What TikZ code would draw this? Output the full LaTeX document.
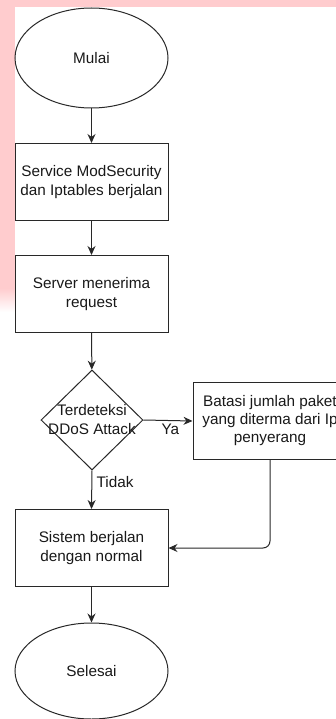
\documentclass[tikz,border=0pt]{standalone}
\usepackage{fontspec}
\setmainfont{Liberation Sans}
\usetikzlibrary{shapes.geometric,arrows.meta}
\definecolor{pinkbg}{RGB}{255,204,206}
\definecolor{linec}{RGB}{40,40,40}
\begin{document}
\begin{tikzpicture}[x=1pt,y=-1pt,
  every node/.style={font=\fontsize{15.3}{19}\selectfont, text=black!90, align=center},
  term/.style={draw=linec, line width=1pt, ellipse, minimum width=153pt, minimum height=100pt, inner sep=0pt},
  proc/.style={draw=linec, line width=1pt, rectangle, minimum width=153pt, minimum height=77pt, inner sep=1pt},
  dec/.style={draw=linec, line width=1pt, diamond, minimum width=102pt, minimum height=100pt, aspect=1.02, inner sep=0pt},
  conn/.style={draw=linec, line width=1pt, -{Stealth[length=9pt,width=8pt]}},
  lbl/.style={font=\fontsize{15.3}{19}\selectfont}]
\useasboundingbox (0,0) rectangle (336,719);
\clip (0,0) rectangle (336,719);
\fill[white] (0,0) rectangle (336,719);
\fill[pinkbg] (0,0) rectangle (336,7);
\fill[pinkbg] (0,0) rectangle (15,288);
\shade[top color=pinkbg, bottom color=white] (0,288) rectangle (15,312);

\node[term] (mulai) at (91.5,58) {Mulai};
\node[proc] (svc) at (91.5,182) {Service ModSecurity\\dan Iptables berjalan};
\node[proc] (srv) at (91.5,294) {Server menerima\\request};
\node[dec] (det) at (92,420) {};
\node at (92,420) {Terdeteksi\\DDoS Attack};
\node[proc, minimum width=154pt, font=\fontsize{15.3}{18}\selectfont] (bat) at (270,421) {Batasi jumlah paket\\yang diterma dari Ip\\penyerang};
\node[proc] (sis) at (91.5,548) {Sistem berjalan\\dengan normal};
\node[term, minimum height=96pt] (sel) at (91.5,671) {Selesai};

\draw[conn] (mulai) -- (svc);
\draw[conn] (svc) -- (srv);
\draw[conn] (srv) -- (det);
\draw[conn] (det.east) -- (bat.west) node[lbl, pos=0.55, below=0pt] {Ya};
\draw[conn] (det.south) -- (sis.north) node[lbl, pos=0.3, right=1pt] {Tidak};
\draw[conn, rounded corners=7pt] (bat.south) |- (sis.east);
\draw[conn] (sis) -- (sel);
\end{tikzpicture}
\end{document}
